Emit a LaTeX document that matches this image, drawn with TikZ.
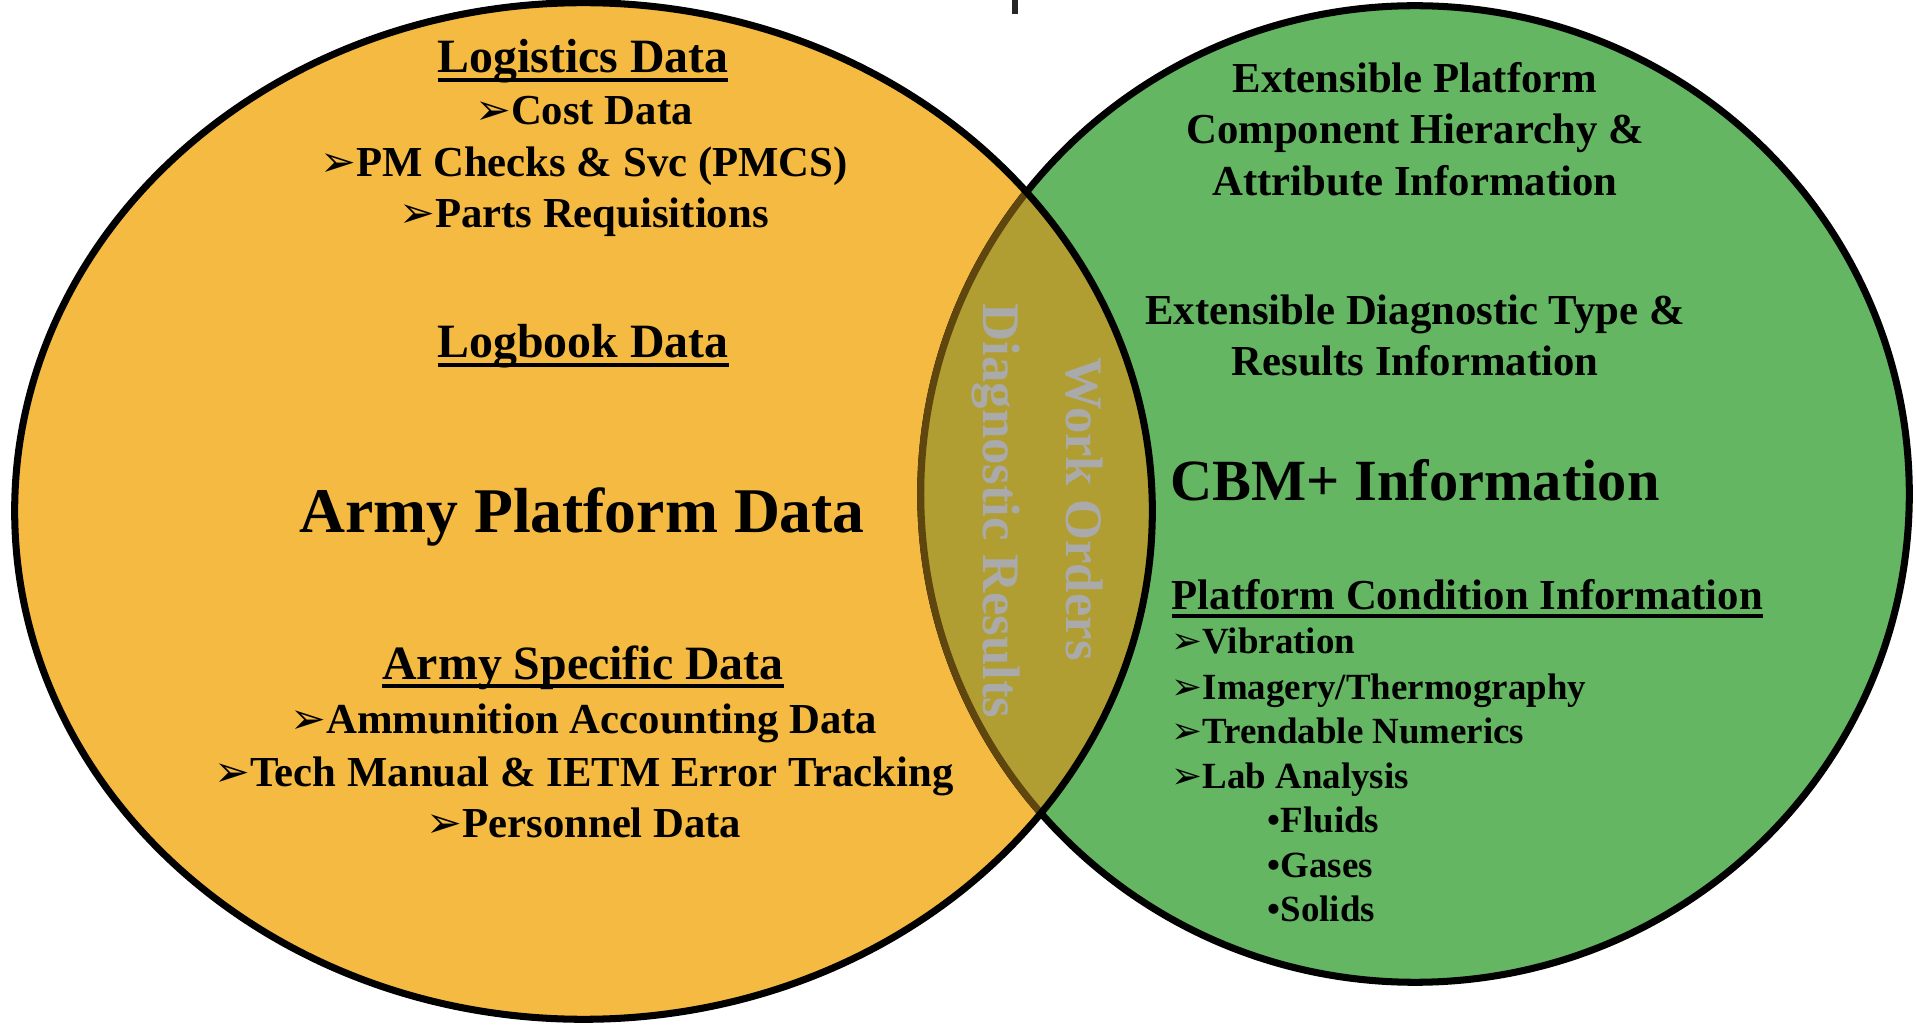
\documentclass[tikz,border=0pt]{standalone}
\usepackage{fontspec}
\setmainfont{Liberation Serif}
\newfontfamily\dejavu{DejaVu Sans}
\definecolor{platorange}{RGB}{245,186,66}
\definecolor{cbmgreen}{RGB}{100,182,98}
\definecolor{lensolive}{RGB}{176,158,50}
\definecolor{lensedge}{RGB}{95,70,15}
\definecolor{overlaygray}{RGB}{170,170,170}
\newcommand{\arrowbul}{{\dejavu\bfseries ➢}}
\newcommand{\hdrule}[1]{\setbox0=\hbox{#1}\rlap{\rule[-2.6pt]{\wd0}{1.2pt}}\box0}
\tikzset{
    leftoval/.style={x radius=5.685cm, y radius=5.08cm},
    rightoval/.style={x radius=4.94cm, y radius=4.88cm},
    lefthead/.style={anchor=base, inner sep=0pt, font=\fontsize{13.6}{16}\selectfont\bfseries},
    leftitem/.style={anchor=base, inner sep=0pt, font=\fontsize{12.15}{14}\selectfont\bfseries},
    rightitem/.style={anchor=base, inner sep=0pt, font=\fontsize{12.15}{14}\selectfont\bfseries},
    condlist/.style={anchor=base west, inner sep=0pt, font=\fontsize{10.5}{12}\selectfont\bfseries},
    overlaptext/.style={rotate=-90, inner sep=0pt, text=overlaygray, font=\fontsize{15}{18}\selectfont\bfseries}
}
\begin{document}
\begin{tikzpicture}[x=0.01cm, y=0.01cm]
    \useasboundingbox (0,0) rectangle (1916,1024);
    \coordinate (L) at (583.5,513);
    \coordinate (R) at (1415,530);
    \fill[platorange] (L) ellipse [leftoval];
    \filldraw[fill=cbmgreen, line width=2pt] (R) ellipse [rightoval];
    \begin{scope}
        \clip (L) ellipse [leftoval];
        \fill[lensolive] (R) ellipse [rightoval];
        \draw[lensedge, line width=2pt] (R) ellipse [rightoval];
    \end{scope}
    \draw[line width=2pt] (L) ellipse [leftoval];
    \fill[black!85] (1012,1010) rectangle (1018,1024);

    \node[lefthead] (logistics) at (583,951) {\hdrule{Logistics Data}};
    \node[leftitem] (cost) at (584,899) {\arrowbul Cost Data};
    \node[leftitem] (pmcs) at (584,847) {\arrowbul PM Checks \& Svc (PMCS)};
    \node[leftitem] (parts) at (584,796) {\arrowbul Parts Requisitions};
    \node[lefthead] (logbook) at (583,666) {\hdrule{Logbook Data}};
    \node[anchor=base, inner sep=0pt, font=\fontsize{18.1}{21}\selectfont\bfseries] (army) at (582,491) {Army Platform Data};
    \node[lefthead] (specific) at (583,345) {\hdrule{Army Specific Data}};
    \node[leftitem] (ammo) at (584,291) {\arrowbul Ammunition Accounting Data};
    \node[leftitem] (tech) at (584,238) {\arrowbul Tech Manual \& IETM Error Tracking};
    \node[leftitem] (personnel) at (584,187) {\arrowbul Personnel Data};

    \node[overlaptext] (diagres) at (996,513) {Diagnostic Results};
    \node[overlaptext] (workord) at (1084,515) {Work Orders};

    \node[rightitem] (extplat) at (1415,931) {Extensible Platform};
    \node[rightitem] (comphier) at (1415,880) {Component Hierarchy \&};
    \node[rightitem] (attrinfo) at (1415,828) {Attribute Information};
    \node[rightitem] (extdiag) at (1415,699) {Extensible Diagnostic Type \&};
    \node[rightitem] (resinfo) at (1415,648) {Results Information};
    \node[anchor=base, inner sep=0pt, font=\fontsize{16.6}{20}\selectfont\bfseries] (cbm) at (1415,523) {CBM+ Information};
    \node[anchor=base west, inner sep=0pt, font=\fontsize{12.15}{14}\selectfont\bfseries] (condinfo) at (1171,415) {\hdrule{Platform Condition Information}};
    \node[condlist] (vib) at (1171,370) {\arrowbul Vibration};
    \node[condlist] (imagery) at (1171,325) {\arrowbul Imagery/Thermography};
    \node[condlist] (trend) at (1171,281) {\arrowbul Trendable Numerics};
    \node[condlist] (lab) at (1171,236) {\arrowbul Lab Analysis};
    \node[condlist] (fluids) at (1267,192) {•Fluids};
    \node[condlist] (gases) at (1267,147) {•Gases};
    \node[condlist] (solids) at (1267,103) {•Solids};
\end{tikzpicture}
\end{document}
